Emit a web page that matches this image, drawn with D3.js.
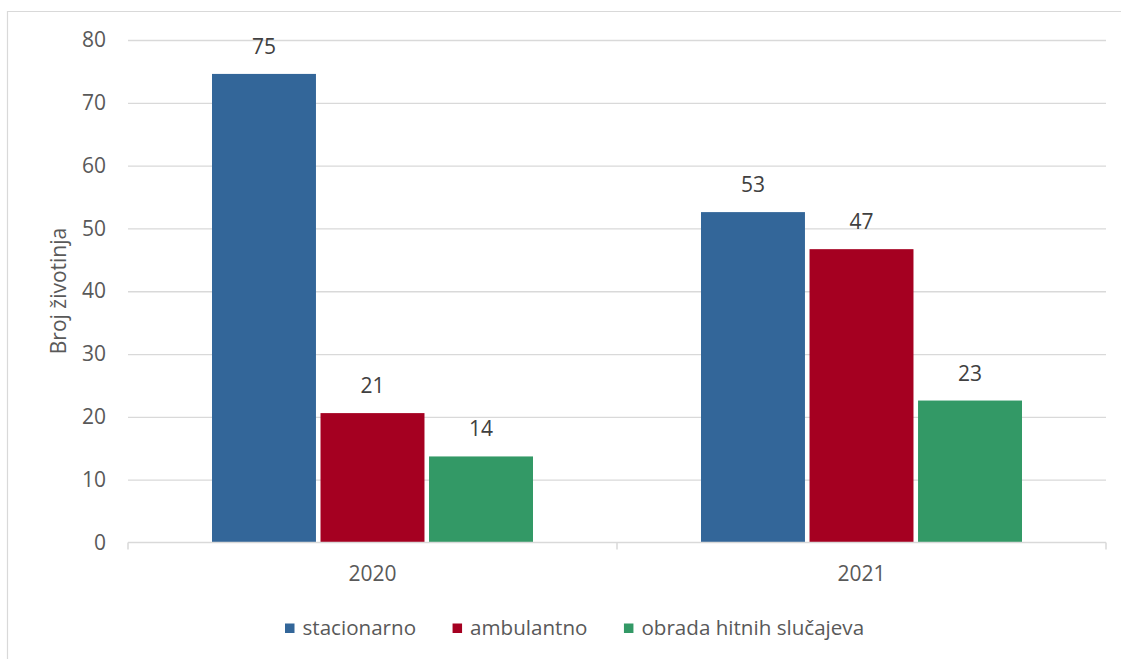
<!DOCTYPE html>
<html><head><meta charset="utf-8">
<script src="https://cdn.jsdelivr.net/npm/d3@7"></script>
<style>
body{margin:0;background:#fff}
svg{display:block}
text{font-family:"Open Sans",sans-serif}
</style>
</head><body><svg id="c" width="1121" height="659"></svg>
<script>
const categories = ["2020", "2021"];
const seriesNames = ["stacionarno", "ambulantno", "obrada hitnih slučajeva"];
const stacionarno = [74.6, 52.6];
const ambulantno = [20.6, 46.7];
const obradaHitnih = [13.7, 22.6];
const yTicks = [0, 10, 20, 30, 40, 50, 60, 70, 80];
const yTitle = "Broj životinja";
const colors = ["#336699", "#A50021", "#339966"];

const seriesValues = [stacionarno, ambulantno, obradaHitnih];
const rows = categories.map((c, i) => ({cat: c, vals: seriesNames.map((s, k) => ({s, v: seriesValues[k][i], k}))}));

const svg = d3.select("#c");
const W = 1121, H = 659;
const plot = {l: 128, r: 1106, t: 40, b: 542.5};

// chart frame
svg.append("path")
  .attr("d", `M7.5,${H+5}V11.5H${W+5}`)
  .attr("fill", "none").attr("stroke", "#d9d9d9").attr("stroke-width", 1.2);

const y = d3.scaleLinear().domain([0, 80]).range([plot.b, plot.t]);
const x0 = d3.scaleBand().domain(categories).range([plot.l, plot.r]).padding(0);
const groupPad = 84;
const x1 = d3.scaleBand().domain(seriesNames).range([groupPad, x0.bandwidth() - groupPad]).paddingInner(0.042);

// y axis with gridlines
const yAxis = d3.axisLeft(y).tickValues(yTicks).tickSize(-(plot.r - plot.l)).tickPadding(22).tickFormat(d3.format("d"));
const gy = svg.append("g").attr("transform", `translate(${plot.l},0)`).call(yAxis);
gy.select(".domain").remove();
gy.selectAll(".tick line").attr("stroke", "#d9d9d9").attr("stroke-width", 1.3)
  .filter(d => d === 0).remove();
gy.selectAll(".tick text").attr("fill", "#595959").style("font-size", "21px").attr("font-family", "Open Sans");

// bars
const groups = svg.append("g").selectAll("g").data(rows).join("g")
  .attr("transform", d => `translate(${x0(d.cat)},0)`);
groups.selectAll("rect").data(d => d.vals).join("rect")
  .attr("x", d => x1(d.s))
  .attr("y", d => y(d.v))
  .attr("width", x1.bandwidth())
  .attr("height", d => y(0) - y(d.v))
  .attr("fill", d => colors[d.k]);
groups.selectAll("text").data(d => d.vals).join("text")
  .attr("x", d => x1(d.s) + x1.bandwidth() / 2)
  .attr("y", d => y(d.v) - 20)
  .attr("text-anchor", "middle")
  .attr("fill", "#404040")
  .style("font-size", "21px")
  .text(d => d3.format(".0f")(d.v));

// x axis baseline
svg.append("line").attr("x1", plot.l).attr("x2", plot.r).attr("y1", y(0)).attr("y2", y(0))
  .attr("stroke", "#d9d9d9").attr("stroke-width", 1.5);
const boundaries = categories.map(c => x0(c)).concat([plot.r]);
svg.append("g").selectAll("line").data(boundaries).join("line")
  .attr("x1", d => d).attr("x2", d => d).attr("y1", y(0)).attr("y2", y(0) + 7)
  .attr("stroke", "#d9d9d9").attr("stroke-width", 1.5);
const xAxis = d3.axisBottom(x0).tickSize(0).tickPadding(24);
const gx = svg.append("g").attr("transform", `translate(0,${y(0)})`).call(xAxis);
gx.select(".domain").remove();
gx.selectAll(".tick text").attr("fill", "#595959").style("font-size", "21px").attr("font-family", "Open Sans");

// y title
svg.append("text")
  .attr("transform", `translate(66,291) rotate(-90)`)
  .attr("text-anchor", "middle")
  .attr("fill", "#595959")
  .style("font-size", "21px")
  .text(yTitle);

// legend
const legend = svg.append("g").attr("transform", "translate(285,628)");
let cx = 0;
seriesNames.forEach((s, k) => {
  const g = legend.append("g").attr("transform", `translate(${cx},0)`);
  g.append("rect").attr("x", 0).attr("y", -4.5).attr("width", 9.5).attr("height", 9.5).attr("fill", colors[k]);
  const t = g.append("text").attr("x", 17.5).attr("y", 0).attr("dy", "0.35em")
    .attr("fill", "#595959").style("font-size", "20.6px").text(s);
  cx += 17.5 + t.node().getComputedTextLength() + 36.5;
});
</script>
</body></html>
